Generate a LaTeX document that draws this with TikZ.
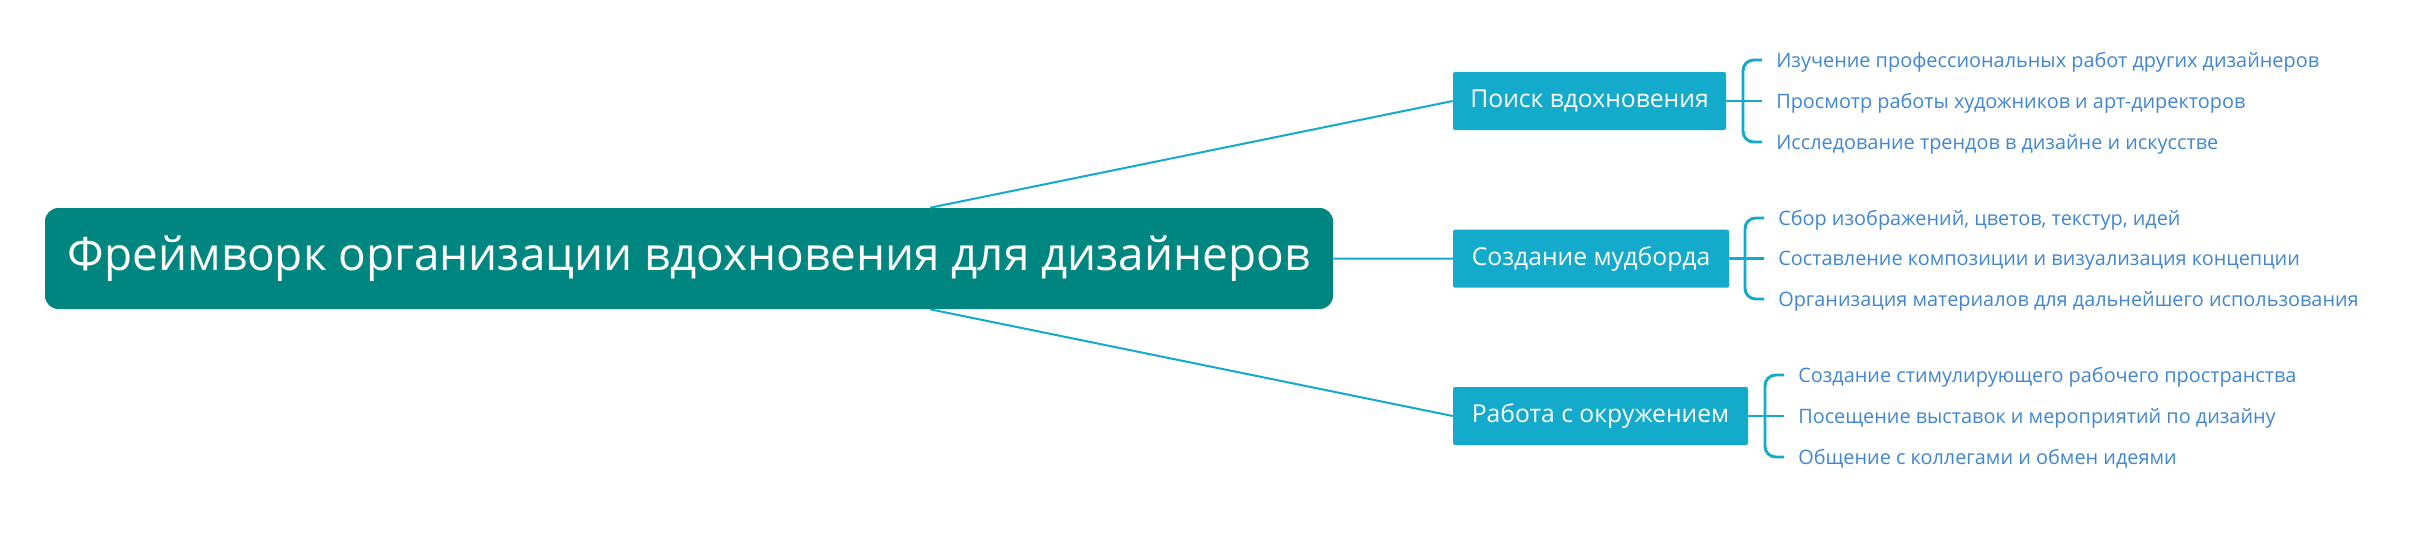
\documentclass[tikz,border=0pt]{standalone}
\usepackage{fontspec}
\setmainfont{Open Sans}
\usetikzlibrary{calc}

\definecolor{rootteal}{RGB}{0,134,128}
\definecolor{branchblue}{RGB}{19,170,203}
\definecolor{leafblue}{RGB}{64,134,208}

\tikzset{
  rootbox/.style={fill=rootteal, text=white, rounded corners=10pt, inner sep=0pt,
    minimum width=966pt, minimum height=75.75pt, font=\fontsize{34.4}{40}\selectfont},
  branchbox/.style={fill=branchblue, text=white, rounded corners=1.5pt, inner sep=0pt,
    minimum height=43.5pt, font=\fontsize{18.5}{22}\selectfont},
  leaftext/.style={anchor=mid west, text=leafblue, inner sep=0pt, font=\fontsize{14.9}{17}\selectfont},
  link/.style={draw=branchblue, line width=1.5pt},
  brace/.style={draw=branchblue, line width=2.2pt, rounded corners=8pt},
}

\begin{document}
\begin{tikzpicture}[x=0.75pt,y=0.75pt,yscale=-1,xscale=1]
\useasboundingbox (0,0) rectangle (2420,533);

% Text Node
\node [rootbox] (root) at (689,258.5) {Фреймворк организации вдохновения для дизайнеров};

% Text Node
\node [branchbox, minimum width=204.75pt] (poisk) at (1589.5,101) {Поиск вдохновения};
% Text Node
\node [branchbox, minimum width=207pt] (mudbord) at (1591,258.7) {Создание мудборда};
% Text Node
\node [branchbox, minimum width=221.25pt] (okruzh) at (1600.5,416) {Работа с окружением};

% Text Node
\node [leaftext] (poisk1) at (1776,63.5) {Изучение профессиональных работ других дизайнеров};
\node [leaftext] (poisk2) at (1776,104.5) {Просмотр работы художников и арт-директоров};
\node [leaftext] (poisk3) at (1776,145.5) {Исследование трендов в дизайне и искусстве};
% Text Node
\node [leaftext] (mudbord1) at (1778,221.5) {Сбор изображений, цветов, текстур, идей};
\node [leaftext] (mudbord2) at (1778,262.2) {Составление композиции и визуализация концепции};
\node [leaftext] (mudbord3) at (1778,302.5) {Организация материалов для дальнейшего использования};
% Text Node
\node [leaftext] (okruzh1) at (1798,378.5) {Создание стимулирующего рабочего пространства};
\node [leaftext] (okruzh2) at (1798,419.5) {Посещение выставок и мероприятий по дизайну};
\node [leaftext] (okruzh3) at (1798,460.5) {Общение с коллегами и обмен идеями};

%Straight Lines
\draw [link] ($(root.north west)!0.687!(root.north east)$) -- (poisk.west);
\draw [link] (root.east) -- (mudbord.west);
\draw [link] ($(root.south west)!0.687!(root.south east)$) -- (okruzh.west);

%Brackets
\draw [brace] ($(poisk1.mid west)+(-14,-3.5)$) -- ++(-19,0) |- ($(poisk3.mid west)+(-14,-3.5)$);
\draw [link, line width=2.2pt] (poisk.east) -- ($(poisk2.mid west)+(-14,-3.5)$);
\draw [brace] ($(mudbord1.mid west)+(-14,-3.5)$) -- ++(-19,0) |- ($(mudbord3.mid west)+(-14,-3.5)$);
\draw [link, line width=2.2pt] (mudbord.east) -- ($(mudbord2.mid west)+(-14,-3.5)$);
\draw [brace] ($(okruzh1.mid west)+(-14,-3.5)$) -- ++(-19,0) |- ($(okruzh3.mid west)+(-14,-3.5)$);
\draw [link, line width=2.2pt] (okruzh.east) -- ($(okruzh2.mid west)+(-14,-3.5)$);

\end{tikzpicture}
\end{document}
